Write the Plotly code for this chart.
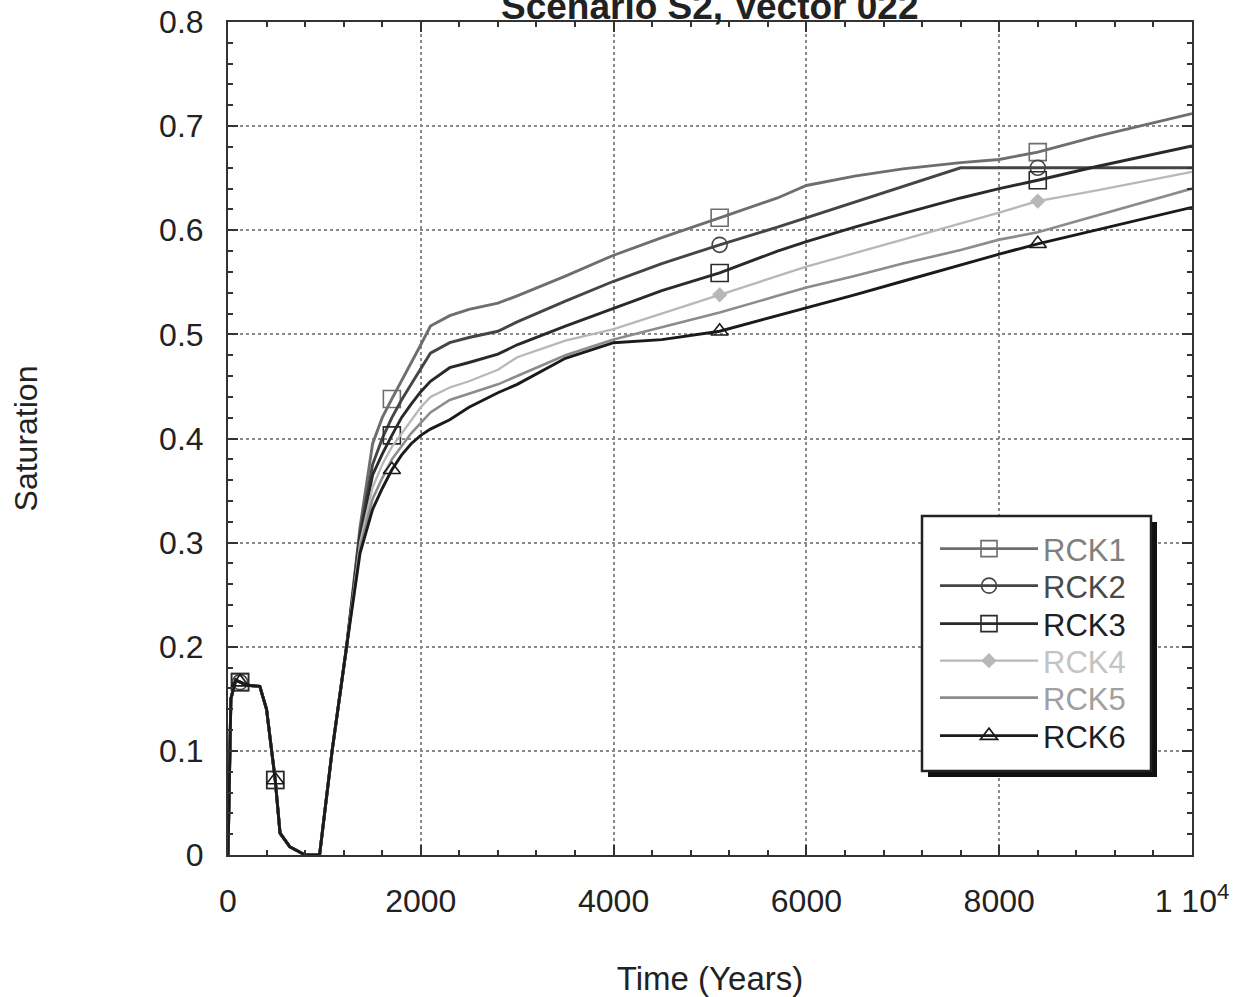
import plotly.graph_objects as go

# ---------------- data ----------------
time_early = [0, 30, 80, 125, 200, 330, 400, 490, 540, 640, 750, 800, 950, 1080, 1230]
sat_early = [0.0, 0.15, 0.168, 0.166, 0.163, 0.162, 0.14, 0.072, 0.021, 0.008, 0.002, 0.0, 0.0, 0.1, 0.2]

time_late = [1370, 1500, 1600, 1700, 1800, 1900, 2000, 2100, 2300, 2500, 2800, 3000, 3500, 4000, 4500,
             5100, 5700, 6000, 6500, 7000, 7600, 8000, 8400, 9000, 10000]

rck1_late = [0.315, 0.395, 0.42, 0.438, 0.455, 0.472, 0.49, 0.508, 0.518, 0.524, 0.530, 0.537, 0.556, 0.576, 0.593,
             0.612, 0.631, 0.643, 0.652, 0.659, 0.665, 0.668, 0.675, 0.69, 0.712]
rck2_late = [0.31, 0.375, 0.40, 0.42, 0.437, 0.452, 0.467, 0.482, 0.492, 0.497, 0.503, 0.512, 0.532, 0.551, 0.568,
             0.586, 0.603, 0.612, 0.627, 0.642, 0.66, 0.66, 0.66, 0.66, 0.66]
rck3_late = [0.305, 0.365, 0.385, 0.403, 0.42, 0.433, 0.445, 0.455, 0.468, 0.473, 0.481, 0.49, 0.508, 0.525, 0.542,
             0.559, 0.580, 0.589, 0.603, 0.616, 0.631, 0.640, 0.648, 0.661, 0.681]
rck4_late = [0.3, 0.353, 0.375, 0.392, 0.405, 0.418, 0.43, 0.44, 0.449, 0.455, 0.466, 0.478, 0.494, 0.505, 0.52,
             0.538, 0.556, 0.565, 0.578, 0.591, 0.606, 0.617, 0.628, 0.638, 0.656]
rck5_late = [0.295, 0.342, 0.362, 0.38, 0.393, 0.405, 0.415, 0.425, 0.437, 0.443, 0.452, 0.46, 0.48, 0.495, 0.507,
             0.521, 0.537, 0.545, 0.556, 0.568, 0.581, 0.591, 0.598, 0.614, 0.64]
rck6_late = [0.29, 0.332, 0.352, 0.37, 0.384, 0.395, 0.403, 0.409, 0.418, 0.43, 0.444, 0.452, 0.477, 0.492, 0.495,
             0.503, 0.518, 0.525, 0.538, 0.551, 0.567, 0.577, 0.587, 0.6, 0.622]

rck1_marker_times = [125, 490, 1700, 5100, 8400]
rck2_marker_times = [125, 5100, 8400]
rck3_marker_times = [125, 490, 1700, 5100, 8400]
rck4_marker_times = [5100, 8400]
rck5_marker_times = []
rck6_marker_times = [125, 490, 1700, 5100, 8400]

names = ["RCK1", "RCK2", "RCK3", "RCK4", "RCK5", "RCK6"]
late_values = [rck1_late, rck2_late, rck3_late, rck4_late, rck5_late, rck6_late]
marker_times = [rck1_marker_times, rck2_marker_times, rck3_marker_times,
                rck4_marker_times, rck5_marker_times, rck6_marker_times]
line_colors = ["#6e6e6e", "#454545", "#2a2a2a", "#b8b8b8", "#8c8c8c", "#1a1a1a"]
text_colors = ["#808080", "#4a4a4a", "#202020", "#c4c4c4", "#a0a0a0", "#1e1e1e"]
line_widths = [2.9, 2.9, 2.9, 2.3, 2.6, 2.9]
symbols = ["square-open", "circle-open", "square-open", "diamond", "", "triangle-up-open"]
marker_sizes = [17, 15, 17, 10, 0, 15]

# ---------------- figure ----------------
W, H = 1244, 997
L, R, T, B = 228, 52, 22, 142
PW, PH = W - L - R, H - T - B
FONT = "Liberation Sans, Arial, Helvetica, sans-serif"


def px_x(p):
    return (p - L) / PW


def px_y(p):
    return (H - B - p) / PH


legend_rows = [549, 586, 624, 661, 698, 736]

fig = go.Figure()
times = time_early + time_late
legend_layouts = {}
for i, name in enumerate(names):
    vals = sat_early + late_values[i]
    fig.add_trace(go.Scatter(x=times, y=vals, mode="lines", showlegend=False,
                             line=dict(color=line_colors[i], width=line_widths[i]),
                             hoverinfo="skip"))
    if symbols[i] and marker_times[i]:
        lookup = dict(zip(times, vals))
        fig.add_trace(go.Scatter(x=marker_times[i], y=[lookup[t] for t in marker_times[i]], mode="markers",
                                 showlegend=False,
                                 marker=dict(symbol=symbols[i], size=marker_sizes[i],
                                             color=line_colors[i],
                                             line=dict(color=line_colors[i], width=1.6))))
    lname = "legend" if i == 0 else "legend%d" % (i + 1)
    fig.add_trace(go.Scatter(x=[None], y=[None], legend=lname,
                             mode="lines+markers" if symbols[i] else "lines",
                             name='<span style="color:%s">%s</span>' % (text_colors[i], name),
                             line=dict(color=line_colors[i], width=line_widths[i]),
                             marker=dict(symbol=symbols[i] or "circle", size=marker_sizes[i] or 1,
                                         color=line_colors[i],
                                         line=dict(color=line_colors[i], width=1.6))))
    legend_layouts[lname] = dict(x=px_x(935), y=px_y(legend_rows[i]), xanchor="left", yanchor="middle",
                                 bgcolor="rgba(0,0,0,0)", borderwidth=0, itemwidth=98,
                                 font=dict(family=FONT, size=31))

# legend box with shadow
fig.add_shape(type="rect", xref="paper", yref="paper", layer="above",
              x0=px_x(928), x1=px_x(1157), y0=px_y(777), y1=px_y(522),
              fillcolor="#111111", line=dict(width=0))
fig.add_shape(type="rect", xref="paper", yref="paper", layer="above",
              x0=px_x(922), x1=px_x(1151), y0=px_y(771), y1=px_y(516),
              fillcolor="white", line=dict(color="#222222", width=2.5))

axis_common = dict(showline=True, linecolor="#333333", linewidth=2, mirror="allticks",
                   ticks="inside", ticklen=10, tickwidth=1.5, tickcolor="#333333",
                   showgrid=True, gridcolor="#8a8a8a", griddash="dot", gridwidth=1.5,
                   zeroline=False, tickfont=dict(family=FONT, size=32, color="#222222"))

fig.update_layout(
    width=W, height=H,
    margin=dict(l=L, r=R, t=T, b=B, autoexpand=False),
    paper_bgcolor="white", plot_bgcolor="white",
    font=dict(family=FONT, size=31, color="#222222"),
    showlegend=True,
    xaxis=dict(range=[0, 10000], tickvals=[0, 2000, 4000, 6000, 8000, 10000],
               ticktext=["0", "2000", "4000", "6000", "8000", "1 10<sup>4</sup>"],
               minor=dict(dtick=400, ticks="inside", ticklen=5, tickcolor="#333333", showgrid=False),
               ticklabelstandoff=17,
               title=dict(text="Time (Years)", standoff=48, font=dict(family=FONT, size=33)),
               **axis_common),
    yaxis=dict(range=[0, 0.8], tickvals=[0, 0.1, 0.2, 0.3, 0.4, 0.5, 0.6, 0.7, 0.8],
               ticktext=["0", "0.1", "0.2", "0.3", "0.4", "0.5", "0.6", "0.7", "0.8"],
               minor=dict(dtick=0.02, ticks="inside", ticklen=5, tickcolor="#333333", showgrid=False),
               ticklabelstandoff=16,
               title=dict(text="Saturation", standoff=112, font=dict(family=FONT, size=32)),
               **axis_common),
    annotations=[dict(text="<b>Scenario S2, Vector 022</b>", xref="paper", yref="paper",
                      x=0.5, y=1, xanchor="center", yanchor="middle", yshift=16,
                      showarrow=False, font=dict(family=FONT, size=37, color="#222222"))],
    **legend_layouts,
)

fig.write_html("out.html")
